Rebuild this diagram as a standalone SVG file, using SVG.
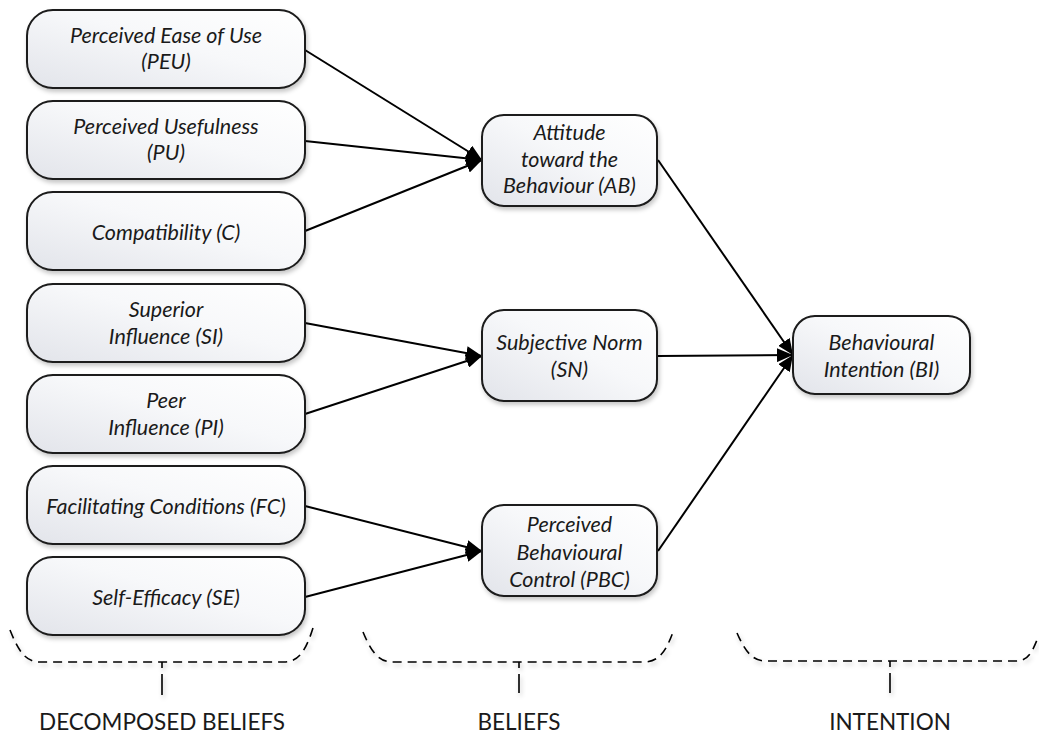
<svg xmlns="http://www.w3.org/2000/svg" width="1039" height="736" viewBox="0 0 1039 736">
<style>
.node{fill:url(#g);stroke:#1a1a1a;stroke-width:2;filter:url(#sh)}
.t{font-family:Lato,"Open Sans","Liberation Sans",sans-serif;font-style:italic;font-size:21.5px;fill:#1a1a1a;text-anchor:middle}
.lab{font-family:Lato,"Open Sans","Liberation Sans",sans-serif;font-size:22.5px;fill:#1a1a1a;text-anchor:middle}
.c{stroke:#000;stroke-width:2;fill:none;marker-end:url(#ah)}
.br{stroke:#000;stroke-width:1.6;fill:none;stroke-dasharray:9 6}
.tk{stroke:#000;stroke-width:1.6;fill:none;stroke-dasharray:6 6 40}
.sh{filter:url(#sh)}
</style>
<defs>
<linearGradient id="g" x1="1" y1="0" x2="0" y2="1">
<stop offset="0" stop-color="#ffffff"/>
<stop offset="0.45" stop-color="#f7f8fa"/>
<stop offset="1" stop-color="#e2e4ea"/>
</linearGradient>
<filter id="sh" x="-10%" y="-10%" width="130%" height="140%">
<feDropShadow dx="1.5" dy="3" stdDeviation="2" flood-color="#000" flood-opacity="0.22"/>
</filter>
<marker id="ah" markerUnits="userSpaceOnUse" markerWidth="17" markerHeight="14" refX="16" refY="7" orient="auto">
<path d="M0,0 L16,7 L0,14 z" fill="#000"/>
</marker>
</defs>
<g id="connectors">
<line class="c" x1="305" y1="50" x2="482" y2="160"/>
<line class="c" x1="305" y1="141" x2="482" y2="160"/>
<line class="c" x1="305" y1="231" x2="482" y2="160"/>
<line class="c" x1="305" y1="323" x2="482" y2="356"/>
<line class="c" x1="305" y1="414" x2="482" y2="356"/>
<line class="c" x1="305" y1="506" x2="482" y2="551"/>
<line class="c" x1="305" y1="597" x2="482" y2="551"/>
<line class="c" x1="658" y1="160" x2="793" y2="355"/>
<line class="c" x1="658" y1="356" x2="793" y2="355"/>
<line class="c" x1="658" y1="551" x2="793" y2="355"/>
</g>
<g id="PEU"><rect class="node" x="27" y="10" width="278" height="78" rx="26"/><text class="t" x="166" y="43">Perceived Ease of Use</text><text class="t" x="166" y="69">(PEU)</text></g>
<g id="PU"><rect class="node" x="27" y="101" width="278" height="78" rx="26"/><text class="t" x="166" y="134">Perceived Usefulness</text><text class="t" x="166" y="160">(PU)</text></g>
<g id="C"><rect class="node" x="27" y="192" width="278" height="78" rx="26"/><text class="t" x="166" y="240">Compatibility (C)</text></g>
<g id="SI"><rect class="node" x="27" y="284" width="278" height="78" rx="26"/><text class="t" x="166" y="317">Superior</text><text class="t" x="166" y="344">Influence (SI)</text></g>
<g id="PI"><rect class="node" x="27" y="375" width="278" height="78" rx="26"/><text class="t" x="166" y="408">Peer</text><text class="t" x="166" y="435">Influence (PI)</text></g>
<g id="FC"><rect class="node" x="27" y="466" width="278" height="78" rx="26"/><text class="t" x="166" y="514">Facilitating Conditions (FC)</text></g>
<g id="SE"><rect class="node" x="27" y="557" width="278" height="78" rx="26"/><text class="t" x="166" y="605">Self-Efficacy (SE)</text></g>
<g id="AB"><rect class="node" x="482" y="115" width="175" height="91" rx="22"/><text class="t" x="569.5" y="140">Attitude</text><text class="t" x="569.5" y="167">toward the</text><text class="t" x="569.5" y="193">Behaviour (AB)</text></g>
<g id="SN"><rect class="node" x="482" y="310" width="175" height="91" rx="22"/><text class="t" x="569.5" y="350">Subjective Norm</text><text class="t" x="569.5" y="377">(SN)</text></g>
<g id="PBC"><rect class="node" x="482" y="505" width="175" height="91" rx="22"/><text class="t" x="569.5" y="532">Perceived</text><text class="t" x="569.5" y="560">Behavioural</text><text class="t" x="569.5" y="587">Control (PBC)</text></g>
<g id="BI"><rect class="node" x="793" y="316" width="177" height="78" rx="22"/><text class="t" x="881.5" y="350">Behavioural</text><text class="t" x="881.5" y="377">Intention (BI)</text></g>
<g id="brace-decomposed">
<g class="sh"><path class="br" d="M10,630 C18,650 25,662 40,662 H284 C299,662 306,650 313,628"/>
<path class="tk" d="M162,662 V695"/></g>
<text class="lab" x="162" y="730">DECOMPOSED BELIEFS</text>
</g>
<g id="brace-beliefs">
<g class="sh"><path class="br" d="M363,632 C371,651 378,662 393,662 H644 C659,662 666,651 673,632"/>
<path class="tk" d="M519,662 V693"/></g>
<text class="lab" x="519" y="730">BELIEFS</text>
</g>
<g id="brace-intention">
<g class="sh"><path class="br" d="M737,633 C745,651 752,661 766,661 H1016 C1028,661 1032,652 1037,640"/>
<path class="tk" d="M890,661 V693"/></g>
<text class="lab" x="890" y="730">INTENTION</text>
</g>
</svg>
